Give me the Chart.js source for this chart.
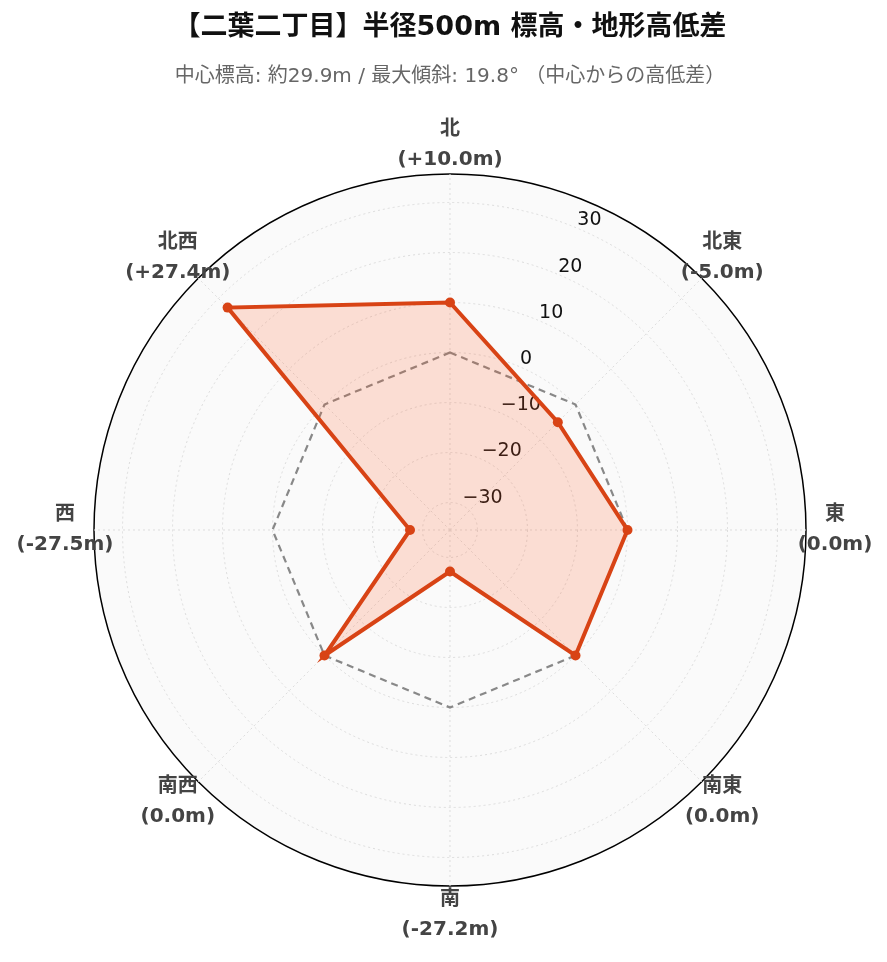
<!DOCTYPE html>
<html>
<head>
<meta charset="utf-8">
<script src="https://cdn.jsdelivr.net/npm/chart.js@4"></script>
<style>
  html, body { margin: 0; padding: 0; background: #fff; }
  #wrap { width: 887px; height: 962px; }
</style>
</head>
<body>
<div id="wrap"><canvas id="terrainChart" width="887" height="962"></canvas></div>
<script>
// direction labels and height difference from the centre (m)
const directions = ['北', '北東', '東', '南東', '南', '南西', '西', '北西'];
const heightDiff = [10.0, -5.0, 0.0, 0.0, -27.2, 0.0, -27.5, 27.4];
const baseline = [0, 0, 0, 0, 0, 0, 0, 0];
const tickValues = [-30, -20, -10, 0, 10, 20, 30];
const rMin = -35.5;
const rMax = 35.7;

const fmtDiff = v => '(' + (v > 0 ? '+' : '') + v.toFixed(1) + 'm)';

// radial tick labels sit along the 22.5 degree line, like the original
const tickLabelPlugin = {
  id: 'tickLabels',
  beforeDatasetsDraw(chart) {
    const scale = chart.scales.r;
    const ctx = chart.ctx;
    ctx.save();
    ctx.font = '19px "DejaVu Sans"';
    ctx.fillStyle = '#111';
    ctx.textAlign = 'left';
    ctx.textBaseline = 'alphabetic';
    tickValues.forEach(v => {
      const p = scale.getPointPosition(0.5, scale.getDistanceFromCenterForValue(v));
      ctx.fillText(String(v).replace('-', '\u2212'), p.x + 2, p.y - 2);
    });
    ctx.restore();
  }
};

// two-line direction labels centred outside the circle
const dirLabelPlugin = {
  id: 'dirLabels',
  afterDraw(chart) {
    const scale = chart.scales.r;
    const ctx = chart.ctx;
    ctx.save();
    ctx.font = 'bold 20px "DejaVu Sans", "Noto Sans CJK JP"';
    ctx.fillStyle = '#444';
    ctx.textAlign = 'center';
    ctx.textBaseline = 'middle';
    directions.forEach((d, i) => {
      const p = scale.getPointPosition(i, scale.drawingArea + 29);
      ctx.fillText(d, p.x, p.y - 15);
      ctx.fillText(fmtDiff(heightDiff[i]), p.x, p.y + 15);
    });
    ctx.restore();
  }
};

const ctx = document.getElementById('terrainChart').getContext('2d');
new Chart(ctx, {
  type: 'radar',
  data: {
    labels: directions,
    datasets: [
      {
        label: '高低差',
        data: heightDiff,
        borderColor: '#d84315',
        backgroundColor: 'rgba(255, 87, 34, 0.18)',
        borderWidth: 4,
        fill: 'start',
        pointRadius: 5,
        pointBackgroundColor: '#d84315',
        pointBorderColor: '#d84315',
        pointBorderWidth: 0,
      },
      {
        label: '基準',
        data: baseline,
        borderColor: '#888',
        borderWidth: 2.2,
        borderDash: [7, 5],
        fill: false,
        pointRadius: 0,
      },
    ],
  },
  options: {
    responsive: false,
    animation: false,
    layout: {
      padding: { left: 13, right: 0, top: 0, bottom: 76 },
    },
    scales: {
      r: {
        min: rMin,
        max: rMax,
        backgroundColor: '#fafafa',
        afterBuildTicks: s => {
          s.ticks = tickValues.map(v => ({ value: v })).concat([{ value: rMax }]);
        },
        ticks: { display: false },
        pointLabels: { display: false },
        grid: {
          circular: true,
          color: c => (c.tick && c.tick.value === rMax ? '#000' : '#ddd'),
          lineWidth: c => (c.tick && c.tick.value === rMax ? 1.5 : 1),
          borderDash: c => (c.tick && c.tick.value === rMax ? [] : [2, 3]),
        },
        border: {
          dash: c => (c.tick && c.tick.value === rMax ? [] : [2, 3]),
        },
        angleLines: {
          color: '#ddd',
          lineWidth: 1,
          borderDash: [2, 3],
        },
      },
    },
    plugins: {
      legend: { display: false },
      tooltip: { enabled: false },
      title: {
        display: true,
        text: '【二葉二丁目】半径500m 標高・地形高低差',
        color: '#111',
        font: { family: '"DejaVu Sans", "Noto Sans CJK JP"', size: 27, weight: 'bold' },
        padding: { top: 12, bottom: 11 },
      },
      subtitle: {
        display: true,
        text: '中心標高: 約29.9m / 最大傾斜: 19.8° （中心からの高低差）',
        color: '#666',
        font: { family: '"DejaVu Sans", "Noto Sans CJK JP"', size: 20 },
        padding: { top: 9, bottom: 85.6 },
      },
    },
  },
  plugins: [tickLabelPlugin, dirLabelPlugin],
});
</script>
</body>
</html>
